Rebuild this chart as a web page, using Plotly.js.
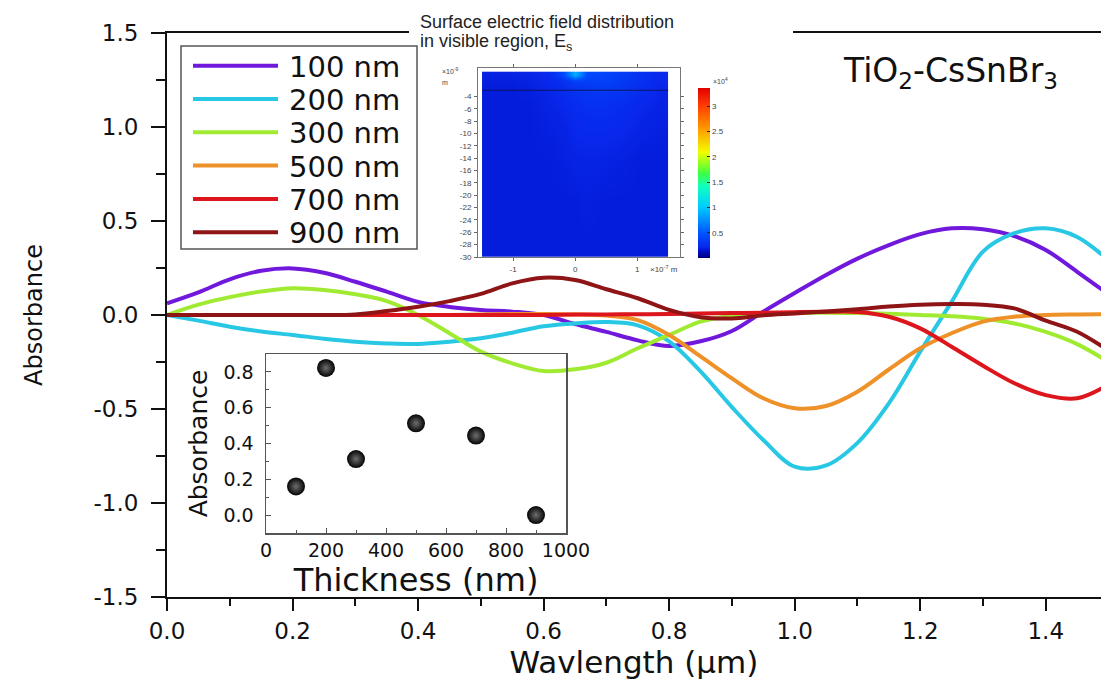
<!DOCTYPE html>
<html><head><meta charset="utf-8">
<script src="https://cdn.plot.ly/plotly-3.0.1.min.js"></script>
<style>html,body{margin:0;padding:0;background:#fff}#chart{width:1101px;height:684px}</style>
</head><body><div id="chart"></div>
<script>
// ---------------- data ----------------
const wavelength = [0,0.05,0.1,0.15,0.2,0.25,0.3,0.35,0.4,0.45,0.5,0.55,0.6,0.65,0.7,0.75,0.8,0.85,0.9,0.95,1.0,1.05,1.1,1.15,1.2,1.25,1.3,1.35,1.4,1.45,1.5];
const abs100nm = [0.062,0.12,0.19,0.235,0.248,0.225,0.177,0.124,0.07,0.043,0.027,0.018,0.0,-0.048,-0.09,-0.135,-0.165,-0.14,-0.085,0.018,0.117,0.213,0.30,0.372,0.43,0.461,0.456,0.42,0.346,0.23,0.11];
const abs200nm = [0,-0.03,-0.062,-0.088,-0.106,-0.126,-0.142,-0.151,-0.154,-0.142,-0.124,-0.094,-0.06,-0.045,-0.037,-0.055,-0.14,-0.30,-0.49,-0.665,-0.807,-0.80,-0.68,-0.47,-0.195,0.07,0.337,0.435,0.461,0.415,0.29];
const abs300nm = [0,0.055,0.095,0.125,0.142,0.133,0.11,0.074,0.0,-0.097,-0.195,-0.257,-0.298,-0.289,-0.254,-0.177,-0.106,-0.035,-0.005,0.008,0.012,0.012,0.01,0.006,0.0,-0.007,-0.02,-0.045,-0.09,-0.155,-0.25];
const abs500nm = [0,0,0,0,0,0,0,0,0,0,0.003,0.005,0.005,0.003,-0.003,-0.027,-0.106,-0.22,-0.337,-0.443,-0.496,-0.484,-0.408,-0.29,-0.177,-0.097,-0.035,-0.009,0.0,0.003,0.005];
const abs700nm = [0,0,0,0,0,0,0,0,0,0,0,0,0,0.002,0.003,0.004,0.005,0.008,0.01,0.012,0.015,0.017,0.016,-0.009,-0.071,-0.169,-0.27,-0.363,-0.426,-0.443,-0.37];
const abs900nm = [0,0,0,0,0,0,0.003,0.021,0.044,0.074,0.112,0.168,0.198,0.186,0.137,0.089,0.027,-0.012,-0.018,-0.002,0.008,0.018,0.03,0.045,0.055,0.058,0.055,0.035,-0.03,-0.089,-0.19];
const seriesNames = ['100 nm','200 nm','300 nm','500 nm','700 nm','900 nm'];
const seriesColors = ['#7018dc','#28c8e4','#a0eb32','#ee9128','#dc161c','#8e1416'];
const seriesValues = [abs100nm, abs200nm, abs300nm, abs500nm, abs700nm, abs900nm];

const xTickVals = [0,0.2,0.4,0.6,0.8,1.0,1.2,1.4];
const xTickText = ['0.0','0.2','0.4','0.6','0.8','1.0','1.2','1.4'];
const yTickVals = [-1.5,-1.0,-0.5,0,0.5,1.0,1.5];
const yTickText = ['-1.5','-1.0','-0.5','0.0','0.5','1.0','1.5'];

// inset: absorbance vs thickness
const thickness = [100,200,300,500,700,900];
const insetAbsorbance = [0.16,0.822,0.313,0.513,0.444,0.0];
const insetXTickVals = [0,200,400,600,800,1000];
const insetXTickText = ['0','200','400','600','800','1000'];
const insetYTickVals = [0,0.2,0.4,0.6,0.8];
const insetYTickText = ['0.0','0.2','0.4','0.6','0.8'];

// inset: surface electric field map (x 10^4), cell edges in x (x10^-7 m) and y (x10^-9 m)
const fieldX = [-1.5,-1.2,-0.9,-0.6,-0.3,-0.1,0.1,0.3,0.6,0.9,1.2,1.5];
const fieldY = [0,-1,-2,-4,-7,-12,-18,-24,-30];
const fieldE = [
  [0.2,0.2,0.21,0.23,0.4,0.9,0.42,0.4,0.36,0.28,0.23],
  [0.19,0.19,0.2,0.22,0.27,0.38,0.36,0.38,0.34,0.27,0.22],
  [0.18,0.18,0.19,0.21,0.24,0.29,0.31,0.33,0.3,0.25,0.21],
  [0.18,0.18,0.18,0.2,0.22,0.25,0.27,0.27,0.25,0.22,0.2],
  [0.18,0.18,0.18,0.19,0.2,0.22,0.23,0.23,0.22,0.2,0.19],
  [0.18,0.18,0.18,0.18,0.19,0.2,0.2,0.2,0.19,0.18,0.18],
  [0.18,0.18,0.18,0.18,0.18,0.18,0.19,0.18,0.18,0.18,0.18],
  [0.18,0.18,0.18,0.18,0.18,0.18,0.18,0.18,0.18,0.18,0.18]
];
const fieldXTickVals = [-1,0,1];
const fieldXTickText = ['-1','0','1'];
const fieldYTickVals = [-4,-6,-8,-10,-12,-14,-16,-18,-20,-22,-24,-26,-28,-30];
const fieldYTickText = ['-4','-6','-8','-10','-12','-14','-16','-18','-20','-22','-24','-26','-28','-30'];
const colorbarTickVals = [0.5,1,1.5,2,2.5,3];
const colorbarTickText = ['0.5','1','1.5','2','2.5','3'];

// ---------------- layout helpers ----------------
const W = 1101, H = 684, ML = 167, MT = 33, PW = W - ML, PH = 564;
const fx = p => (p - ML) / PW;
const fy = p => (MT + PH - p) / PH;
const INK = '#111';
const SANS = 'DejaVu Sans, Liberation Sans, sans-serif';
const ARIAL = 'Liberation Sans, Arial, sans-serif';

const traces = seriesValues.map((vals, i) => ({
  type: 'scatter', mode: 'lines', x: wavelength, y: vals, name: seriesNames[i],
  line: {color: seriesColors[i], width: 4, shape: 'spline', smoothing: 1.0},
  xaxis: 'x', yaxis: 'y', showlegend: false, hoverinfo: 'skip'
}));

traces.push({
  type: 'scatter', mode: 'markers', x: thickness, y: insetAbsorbance,
  xaxis: 'x2', yaxis: 'y2', showlegend: false, cliponaxis: false,
  marker: {size: 18, color: '#030303', gradient: {type: 'radial', color: '#6e6e6e'}, line: {width: 0}},
  hoverinfo: 'skip'
});

traces.push({
  type: 'heatmap', x: fieldX, y: fieldY, z: fieldE, xaxis: 'x3', yaxis: 'y3',
  zmin: 0, zmax: 3.36, zsmooth: 'best', showscale: true,
  colorscale: [[0,'#00007a'],[0.04,'#0010c8'],[0.065,'#0828ec'],[0.14,'#0050ff'],[0.3,'#00ccff'],[0.42,'#10ffc0'],[0.5,'#40ff40'],[0.62,'#f0ff00'],[0.76,'#ff9a00'],[0.9,'#ff3a00'],[1,'#e00000']],
  colorbar: {x: fx(698), xanchor: 'left', y: fy(173), yanchor: 'middle', len: 170, lenmode: 'pixels',
    thickness: 12, thicknessmode: 'pixels', outlinewidth: 0, xpad: 0, ypad: 0,
    tickmode: 'array', tickvals: colorbarTickVals, ticktext: colorbarTickText,
    ticks: 'inside', ticklen: 3, tickcolor: '#222', tickfont: {family: ARIAL, size: 8, color: '#444'}},
  hoverinfo: 'skip'
});

const shapes = [
  // white background of the field-map picture hiding the top frame line
  {type: 'rect', xref: 'paper', yref: 'paper', x0: fx(409), x1: fx(793), y0: fy(45), y1: fy(20), fillcolor: '#fff', line: {width: 0}, layer: 'above'},
  // boundary line in the field map
  {type: 'line', xref: 'x3', yref: 'y3', x0: -1.5, x1: 1.5, y0: -3, y1: -3, line: {color: 'rgba(10,20,70,0.85)', width: 1}, layer: 'above'},
  // legend box
  {type: 'rect', xref: 'paper', yref: 'paper', x0: fx(181), x1: fx(417), y0: fy(249), y1: fy(46), fillcolor: '#fff', line: {color: '#555', width: 1.5}, layer: 'above'}
];
const annotations = [];
seriesNames.forEach((nm, i) => {
  const yc = 65.7 + i * 33.3;
  shapes.push({type: 'line', xref: 'paper', yref: 'paper', x0: fx(193), x1: fx(278), y0: fy(yc), y1: fy(yc), line: {color: seriesColors[i], width: 4}, layer: 'above'});
  annotations.push({xref: 'paper', yref: 'paper', x: fx(287), y: fy(yc + 1), xanchor: 'left', yanchor: 'middle', showarrow: false, text: nm, font: {family: SANS, size: 29, color: INK}});
});
annotations.push(
  {xref: 'paper', yref: 'paper', x: fx(950), y: fy(72), xanchor: 'center', yanchor: 'middle', showarrow: false, text: 'TiO<sub>2</sub>-CsSnBr<sub>3</sub>', font: {family: SANS, size: 33, color: INK}},
  {xref: 'paper', yref: 'paper', x: fx(418), y: fy(22), xanchor: 'left', yanchor: 'middle', showarrow: false, text: 'Surface electric field distribution', font: {family: ARIAL, size: 18, color: '#222'}},
  {xref: 'paper', yref: 'paper', x: fx(418), y: fy(43), xanchor: 'left', yanchor: 'middle', showarrow: false, text: 'in visible region, E<sub>s</sub>', font: {family: ARIAL, size: 18, color: '#222'}},
  {xref: 'paper', yref: 'paper', x: fx(440), y: fy(71), xanchor: 'left', yanchor: 'middle', showarrow: false, text: '×10<sup>-9</sup>', font: {family: ARIAL, size: 7, color: '#444'}},
  {xref: 'paper', yref: 'paper', x: fx(440), y: fy(82), xanchor: 'left', yanchor: 'middle', showarrow: false, text: 'm', font: {family: ARIAL, size: 7, color: '#444'}},
  {xref: 'paper', yref: 'paper', x: fx(648), y: fy(269), xanchor: 'left', yanchor: 'middle', showarrow: false, text: '×10<sup>-7</sup> m', font: {family: ARIAL, size: 8, color: '#444'}},
  {xref: 'paper', yref: 'paper', x: fx(711), y: fy(81), xanchor: 'left', yanchor: 'middle', showarrow: false, text: '×10<sup>4</sup>', font: {family: ARIAL, size: 7, color: '#444'}}
);

const layout = {
  width: W, height: H, margin: {l: ML, r: 0, t: MT, b: H - MT - PH, pad: 0},
  paper_bgcolor: '#fff', plot_bgcolor: 'rgba(0,0,0,0)', showlegend: false,
  xaxis: {domain: [0, 1], anchor: 'y', range: [0, 1.488], tickmode: 'array', tickvals: xTickVals, ticktext: xTickText,
    ticks: 'outside', ticklen: 12, tickwidth: 2, tickcolor: INK, showline: true, linewidth: 2, linecolor: INK, mirror: true,
    showgrid: false, zeroline: false, ticklabelstandoff: 0,
    tickfont: {family: SANS, size: 23, color: INK},
    minor: {dtick: 0.1, tick0: 0, ticks: 'outside', ticklen: 7, tickwidth: 2, tickcolor: INK},
    title: {text: 'Wavlength (μm)', font: {family: SANS, size: 31, color: INK}, standoff: 4}},
  yaxis: {domain: [0, 1], anchor: 'x', range: [-1.5, 1.5], tickmode: 'array', tickvals: yTickVals, ticktext: yTickText,
    ticks: 'outside', ticklen: 14, tickwidth: 2, tickcolor: INK, showline: true, linewidth: 2, linecolor: INK, mirror: false,
    showgrid: false, zeroline: false, ticklabelstandoff: 8,
    tickfont: {family: SANS, size: 23, color: INK},
    minor: {dtick: 0.25, tick0: 0, ticks: 'outside', ticklen: 9, tickwidth: 2, tickcolor: INK},
    title: {text: 'Absorbance', font: {family: SANS, size: 24, color: INK}, standoff: 44}},
  xaxis2: {domain: [fx(266), fx(566)], anchor: 'y2', range: [0, 1000], tickmode: 'array', tickvals: insetXTickVals, ticktext: insetXTickText,
    ticks: 'inside', ticklen: 5, tickwidth: 1, tickcolor: '#555', showline: true, linewidth: 1.5, linecolor: '#555', mirror: true,
    showgrid: false, zeroline: false, ticklabelstandoff: 0,
    tickfont: {family: SANS, size: 19, color: INK},
    minor: {dtick: 100, tick0: 0, ticks: 'inside', ticklen: 3, tickwidth: 1, tickcolor: '#555'},
    title: {text: 'Thickness (nm)', font: {family: SANS, size: 32, color: INK}, standoff: 2}},
  yaxis2: {domain: [fy(533), fy(354)], anchor: 'x2', range: [-0.1, 0.9], tickmode: 'array', tickvals: insetYTickVals, ticktext: insetYTickText,
    ticks: 'inside', ticklen: 5, tickwidth: 1, tickcolor: '#555', showline: true, linewidth: 1.5, linecolor: '#555', mirror: true,
    showgrid: false, zeroline: false, ticklabelstandoff: 7,
    tickfont: {family: SANS, size: 19, color: INK},
    minor: {dtick: 0.1, tick0: 0, ticks: 'inside', ticklen: 3, tickwidth: 1, tickcolor: '#555'},
    title: {text: 'Absorbance', font: {family: SANS, size: 25, color: INK}, standoff: 8}},
  xaxis3: {domain: [fx(478), fx(680)], anchor: 'y3', range: [-1.565, 1.69], tickmode: 'array', tickvals: fieldXTickVals, ticktext: fieldXTickText,
    ticks: 'outside', ticklen: 3, tickwidth: 1, tickcolor: '#666', showline: true, linewidth: 1, linecolor: '#777', mirror: 'allticks',
    showgrid: false, zeroline: false, ticklabelstandoff: 1, tickfont: {family: ARIAL, size: 8, color: '#444'}},
  yaxis3: {domain: [fy(257), fy(68)], anchor: 'x3', range: [-30, 0.6], tickmode: 'array', tickvals: fieldYTickVals, ticktext: fieldYTickText,
    ticks: 'outside', ticklen: 3, tickwidth: 1, tickcolor: '#666', showline: true, linewidth: 1, linecolor: '#777', mirror: 'allticks',
    showgrid: false, zeroline: false, ticklabelstandoff: 1, tickfont: {family: ARIAL, size: 8, color: '#444'}},
  shapes: shapes, annotations: annotations
};

Plotly.newPlot('chart', traces, layout, {displayModeBar: false, staticPlot: true});
</script>
</body></html>
